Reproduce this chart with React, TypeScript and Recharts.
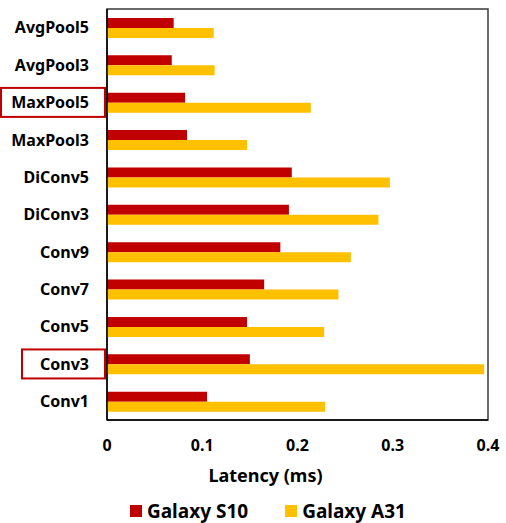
import React from "react";
import { BarChart, Bar, XAxis, YAxis, Legend, ReferenceArea } from "recharts";

// Per-op latency (ms) measured on two phones
const ops = ["AvgPool5", "AvgPool3", "MaxPool5", "MaxPool3", "DiConv5", "DiConv3", "Conv9", "Conv7", "Conv5", "Conv3", "Conv1"];
const galaxyS10 = [0.070, 0.068, 0.082, 0.084, 0.194, 0.191, 0.182, 0.165, 0.147, 0.150, 0.105];
const galaxyA31 = [0.112, 0.113, 0.214, 0.147, 0.297, 0.285, 0.256, 0.243, 0.228, 0.396, 0.229];
const xTicks = [0, 0.1, 0.2, 0.3, 0.4];
const highlighted = ["MaxPool5", "Conv3"];

const data = ops.map((name, i) => ({ name, s10: galaxyS10[i], a31: galaxyA31[i] }));

const RED = "#C00000";
const YELLOW = "#FFC000";
const FONT = "'Noto Sans', sans-serif";

// left edge of the outline box drawn around highlighted labels
const boxLeft: Record<string, number> = { MaxPool5: 1, Conv3: 22 };

function OpTick(props: any) {
  const { x, y, payload } = props;
  const name = payload.value as string;
  return (
    <g>
      {highlighted.includes(name) && (
        <rect
          x={boxLeft[name]}
          y={y - 14.5}
          width={x + 16 - boxLeft[name]}
          height={29}
          fill="none"
          stroke={RED}
          strokeWidth={2}
        />
      )}
      <text x={x} y={y} dy="0.36em" textAnchor="end" fontFamily={FONT} fontWeight={700} fontSize={16} fill="#000">
        {name}
      </text>
    </g>
  );
}

function LegendBox() {
  const items = [
    { label: "Galaxy S10", color: RED },
    { label: "Galaxy A31", color: YELLOW },
  ];
  return (
    <div style={{ display: "flex", justifyContent: "center", gap: 37, fontFamily: FONT, fontWeight: 700, fontSize: 19, paddingLeft: 30 }}>
      {items.map((it) => (
        <div key={it.label} style={{ display: "flex", alignItems: "center", gap: 5 }}>
          <span style={{ width: 12, height: 12, background: it.color, display: "inline-block" }} />
          <span style={{ color: "#000" }}>{it.label}</span>
        </div>
      ))}
    </div>
  );
}

export default function App() {
  return (
    <div style={{ position: "absolute", left: 0, top: 0, background: "#fff" }}>
      <BarChart
        width={506}
        height={523}
        data={data}
        layout="vertical"
        margin={{ top: 9, right: 18, left: 0, bottom: 0 }}
        barGap={0}
        barSize={10}
      >
        <ReferenceArea x1={0} x2={0.4} fill="none" stroke="#3a3a3a" strokeWidth={1.5} ifOverflow="visible" />
        <XAxis
          type="number"
          domain={[0, 0.4]}
          ticks={xTicks}
          tickSize={0}
          tickMargin={20}
          axisLine={{ stroke: "#000", strokeWidth: 1.5 }}
          tick={{ fill: "#000", fontFamily: FONT, fontWeight: 700, fontSize: 16 }}
          height={103}
          label={(p: any) => {
            const vb = p.viewBox;
            return (
              <text
                x={vb.x + vb.width / 2 - 32}
                y={482}
                textAnchor="middle"
                fontFamily={FONT}
                fontWeight={700}
                fontSize={18}
                fill="#000"
              >
                Latency (ms)
              </text>
            );
          }}
        />
        <YAxis
          type="category"
          dataKey="name"
          width={107}
          tickSize={0}
          tickMargin={18}
          axisLine={{ stroke: "#000", strokeWidth: 1.5 }}
          tick={<OpTick />}
          interval={0}
        />
        <YAxis
          yAxisId="right"
          orientation="right"
          type="category"
          dataKey="name"
          width={0}
          tick={false}
          tickLine={false}
          axisLine={{ stroke: "#808080", strokeWidth: 2 }}
        />
        <Legend
          layout="horizontal"
          verticalAlign="middle"
          align="center"
          content={() => <LegendBox />}
          wrapperStyle={{ top: 498, left: 0, width: 506 }}
        />
        <Bar dataKey="s10" name="Galaxy S10" fill={RED} isAnimationActive={false} />
        <Bar dataKey="a31" name="Galaxy A31" fill={YELLOW} isAnimationActive={false} />
      </BarChart>
    </div>
  );
}
